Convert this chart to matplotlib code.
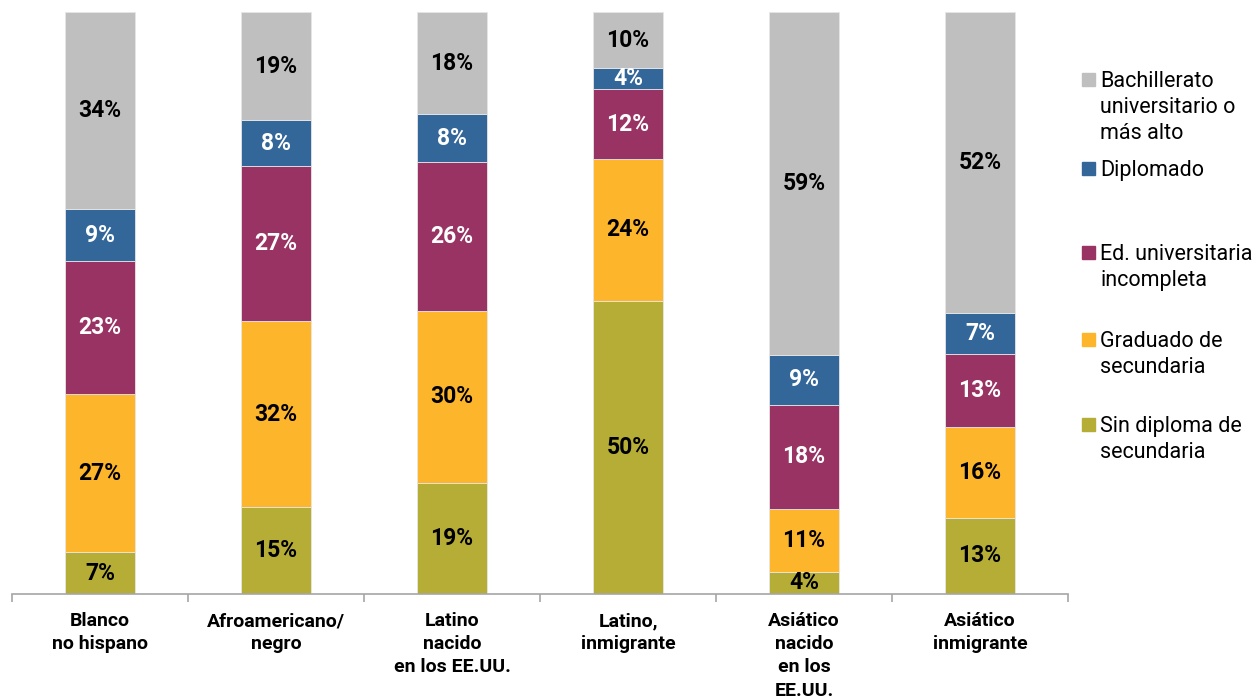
import numpy as np
import matplotlib.pyplot as plt
from matplotlib.patches import Rectangle

plt.rcParams['font.family'] = ['Roboto', 'DejaVu Sans']

# Categories (bottom-to-top stacking order of education levels)
categories = ['Blanco\nno hispano', 'Afroamericano/\nnegro', 'Latino\nnacido\nen los EE.UU.',
              'Latino,\ninmigrante', 'Asiático\nnacido\nen los\nEE.UU.', 'Asiático\ninmigrante']

sin_diploma = [7.2, 14.9, 19.1, 50.4, 3.8, 13.1]
graduado = [27.1, 32.0, 29.5, 24.4, 10.8, 15.6]
ed_universitaria = [22.9, 26.6, 25.7, 11.9, 17.9, 12.6]
diplomado = [8.9, 7.9, 8.1, 3.6, 8.6, 6.9]
bachillerato = [33.9, 18.6, 17.6, 9.7, 58.9, 51.8]

series = [sin_diploma, graduado, ed_universitaria, diplomado, bachillerato]
series_names = ['Sin diploma de\nsecundaria', 'Graduado de\nsecundaria',
                'Ed. universitaria\nincompleta', 'Diplomado',
                'Bachillerato\nuniversitario o\nmás alto']
colors = ['#B5AD35', '#FDB52B', '#993363', '#33679A', '#BFBFBF']
text_colors = ['black', 'black', 'white', 'white', 'black']

fig = plt.figure(figsize=(12.6, 7), dpi=100)
ax = fig.add_axes([12 / 1260, 1 - 594 / 700, (1068 - 12) / 1260, (594 - 12) / 700])

x = np.arange(len(categories))
bottom = np.zeros(len(categories))
for vals, color, tcolor in zip(series, colors, text_colors):
    vals = np.array(vals)
    ax.bar(x, vals, width=0.395, bottom=bottom, color=color,
           edgecolor='#E6E6E6', linewidth=0.6)
    for xi, b, v in zip(x, bottom, vals):
        ax.text(xi, b + v / 2, f'{v:.0f}%', ha='center', va='center',
                fontsize=16.5, fontweight='bold', color=tcolor)
    bottom += vals

ax.set_xlim(-0.5, len(categories) - 0.5)
ax.set_ylim(0, 100)
ax.set_yticks([])
for side in ['left', 'right', 'top']:
    ax.spines[side].set_visible(False)
ax.spines['bottom'].set_color('#A6A6A6')
ax.spines['bottom'].set_linewidth(1.2)

ax.set_xticks(x)
ax.set_xticklabels(categories, fontsize=14, fontweight='bold', linespacing=1.37)
ax.tick_params(axis='x', which='major', length=0, pad=13)
ax.set_xticks(np.arange(-0.5, len(categories)), minor=True)
ax.tick_params(axis='x', which='minor', length=6, width=1.2, color='#A6A6A6', direction='out')

# Legend drawn by hand: entries evenly spaced, marker aligned with first line
legend_tops = [73, 162, 246, 333, 418]
for name, color, top in zip(series_names[::-1], colors[::-1], legend_tops):
    fig.patches.append(Rectangle((1082 / 1260, 1 - (top + 13) / 700), 13 / 1260, 13 / 700,
                                 transform=fig.transFigure, color=color))
    fig.text(1100 / 1260, 1 - (top - 2) / 700, name, ha='left', va='top',
             fontsize=15.5, linespacing=1.3)

fig.savefig('out.png', dpi=100)
